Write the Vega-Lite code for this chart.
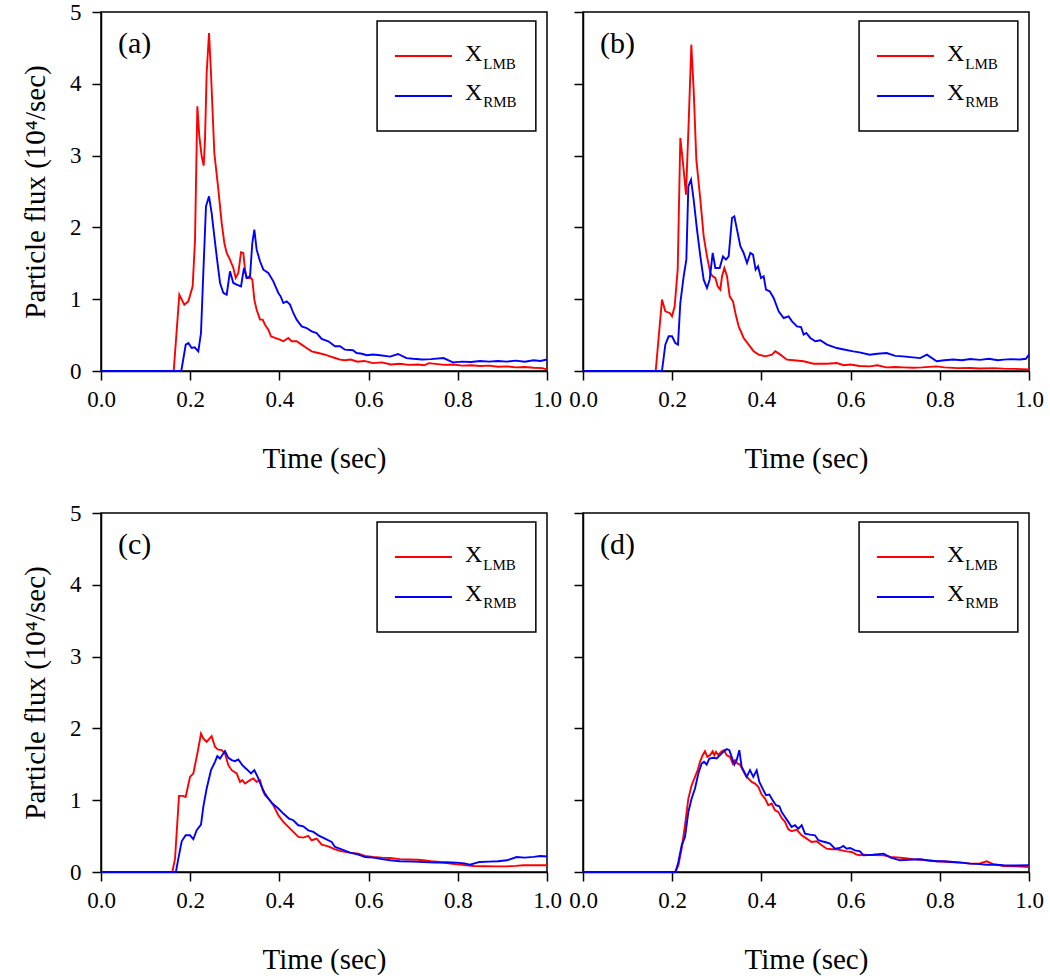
{
  "$schema": "https://vega.github.io/schema/vega-lite/v6.json",
  "padding": {"left": 20, "top": 0, "right": 5, "bottom": 5},
  "background": "white",
  "bounds": "flush",
  "columns": 2,
  "spacing": {"row": 142, "column": 36},
  "config": {
    "font": "Liberation Serif",
    "view": {"stroke": "black", "strokeWidth": 1.5},
    "axis": {"domainColor": "black", "domainWidth": 1.5, "tickColor": "black", "tickWidth": 1.5, "tickSize": 9,
      "labelFont": "Liberation Serif", "labelFontSize": 23, "labelColor": "black", "labelFlush": false, "labelOverlap": false, "labelBound": false,
      "titleFont": "Liberation Serif", "titleFontSize": 29, "titleFontWeight": "normal", "titleColor": "black", "grid": false},
    "axisX": {"labelPadding": 8, "titlePadding": 33},
    "axisY": {"labelPadding": 11, "titlePadding": 19}
  },
  "datasets": {
    "a": [
      {"s":"LMB","t":0,"v":0},{"s":"LMB","t":0.163,"v":0},{"s":"LMB","t":0.1756,"v":1.063},{"s":"LMB","t":0.1868,"v":0.924},{"s":"LMB","t":0.1958,"v":0.97},{"s":"LMB","t":0.2055,"v":1.179},{"s":"LMB","t":0.2108,"v":1.829},{"s":"LMB","t":0.216,"v":3.686},{"s":"LMB","t":0.2205,"v":3.268},{"s":"LMB","t":0.2257,"v":2.99},{"s":"LMB","t":0.2302,"v":2.86},{"s":"LMB","t":0.2332,"v":3.222},{"s":"LMB","t":0.2369,"v":4.151},{"s":"LMB","t":0.2422,"v":4.708},{"s":"LMB","t":0.2466,"v":4.151},{"s":"LMB","t":0.2541,"v":3.036},{"s":"LMB","t":0.2631,"v":2.526},{"s":"LMB","t":0.2706,"v":2.061},{"s":"LMB","t":0.2765,"v":1.783},{"s":"LMB","t":0.2818,"v":1.644},{"s":"LMB","t":0.2892,"v":1.551},{"s":"LMB","t":0.2967,"v":1.435},{"s":"LMB","t":0.302,"v":1.296},{"s":"LMB","t":0.3079,"v":1.365},{"s":"LMB","t":0.3139,"v":1.653},{"s":"LMB","t":0.3191,"v":1.644},{"s":"LMB","t":0.3229,"v":1.411},{"s":"LMB","t":0.3266,"v":1.296},{"s":"LMB","t":0.3363,"v":1.296},{"s":"LMB","t":0.3393,"v":1.272},{"s":"LMB","t":0.3438,"v":0.994},{"s":"LMB","t":0.349,"v":0.854},{"s":"LMB","t":0.3565,"v":0.715},{"s":"LMB","t":0.3625,"v":0.715},{"s":"LMB","t":0.3677,"v":0.645},{"s":"LMB","t":0.3752,"v":0.576},{"s":"LMB","t":0.3812,"v":0.483},{"s":"LMB","t":0.3901,"v":0.46},{"s":"LMB","t":0.4013,"v":0.437},{"s":"LMB","t":0.4088,"v":0.414},{"s":"LMB","t":0.42,"v":0.46},{"s":"LMB","t":0.4275,"v":0.414},{"s":"LMB","t":0.4387,"v":0.414},{"s":"LMB","t":0.4499,"v":0.367},{"s":"LMB","t":0.4611,"v":0.321},{"s":"LMB","t":0.4723,"v":0.274},{"s":"LMB","t":0.4873,"v":0.251},{"s":"LMB","t":0.5022,"v":0.228},{"s":"LMB","t":0.5135,"v":0.204},{"s":"LMB","t":0.5247,"v":0.181},{"s":"LMB","t":0.5359,"v":0.158},{"s":"LMB","t":0.5471,"v":0.149},{"s":"LMB","t":0.56,"v":0.16},{"s":"LMB","t":0.575,"v":0.13},{"s":"LMB","t":0.59,"v":0.14},{"s":"LMB","t":0.61,"v":0.11},{"s":"LMB","t":0.63,"v":0.12},{"s":"LMB","t":0.65,"v":0.09},{"s":"LMB","t":0.67,"v":0.1},{"s":"LMB","t":0.69,"v":0.085},{"s":"LMB","t":0.71,"v":0.09},{"s":"LMB","t":0.725,"v":0.08},{"s":"LMB","t":0.735,"v":0.11},{"s":"LMB","t":0.75,"v":0.1},{"s":"LMB","t":0.77,"v":0.085},{"s":"LMB","t":0.79,"v":0.09},{"s":"LMB","t":0.81,"v":0.075},{"s":"LMB","t":0.83,"v":0.08},{"s":"LMB","t":0.85,"v":0.07},{"s":"LMB","t":0.87,"v":0.075},{"s":"LMB","t":0.89,"v":0.06},{"s":"LMB","t":0.91,"v":0.065},{"s":"LMB","t":0.93,"v":0.05},{"s":"LMB","t":0.95,"v":0.055},{"s":"LMB","t":0.97,"v":0.045},{"s":"LMB","t":0.99,"v":0.04},{"s":"LMB","t":1.0,"v":0.02},
      {"s":"RMB","t":0,"v":0},{"s":"RMB","t":0.18,"v":0},{"s":"RMB","t":0.19,"v":0.367},{"s":"RMB","t":0.196,"v":0.39},{"s":"RMB","t":0.2033,"v":0.321},{"s":"RMB","t":0.21,"v":0.33},{"s":"RMB","t":0.2182,"v":0.274},{"s":"RMB","t":0.2242,"v":0.529},{"s":"RMB","t":0.2294,"v":1.365},{"s":"RMB","t":0.2354,"v":2.294},{"s":"RMB","t":0.2422,"v":2.433},{"s":"RMB","t":0.2481,"v":2.2},{"s":"RMB","t":0.2541,"v":1.876},{"s":"RMB","t":0.2594,"v":1.597},{"s":"RMB","t":0.2669,"v":1.226},{"s":"RMB","t":0.2743,"v":1.087},{"s":"RMB","t":0.2818,"v":1.063},{"s":"RMB","t":0.2892,"v":1.388},{"s":"RMB","t":0.2967,"v":1.226},{"s":"RMB","t":0.3042,"v":1.203},{"s":"RMB","t":0.3139,"v":1.179},{"s":"RMB","t":0.3206,"v":1.435},{"s":"RMB","t":0.3266,"v":1.296},{"s":"RMB","t":0.3341,"v":1.319},{"s":"RMB","t":0.3393,"v":1.783},{"s":"RMB","t":0.3438,"v":1.969},{"s":"RMB","t":0.349,"v":1.69},{"s":"RMB","t":0.3565,"v":1.528},{"s":"RMB","t":0.364,"v":1.411},{"s":"RMB","t":0.3752,"v":1.365},{"s":"RMB","t":0.3864,"v":1.249},{"s":"RMB","t":0.3976,"v":1.087},{"s":"RMB","t":0.4028,"v":1.04},{"s":"RMB","t":0.4088,"v":0.947},{"s":"RMB","t":0.4163,"v":0.97},{"s":"RMB","t":0.4238,"v":0.924},{"s":"RMB","t":0.4312,"v":0.808},{"s":"RMB","t":0.4387,"v":0.715},{"s":"RMB","t":0.4499,"v":0.622},{"s":"RMB","t":0.4611,"v":0.599},{"s":"RMB","t":0.4723,"v":0.553},{"s":"RMB","t":0.4836,"v":0.529},{"s":"RMB","t":0.4948,"v":0.446},{"s":"RMB","t":0.5097,"v":0.414},{"s":"RMB","t":0.5247,"v":0.344},{"s":"RMB","t":0.5359,"v":0.344},{"s":"RMB","t":0.5471,"v":0.297},{"s":"RMB","t":0.565,"v":0.29},{"s":"RMB","t":0.573,"v":0.25},{"s":"RMB","t":0.585,"v":0.24},{"s":"RMB","t":0.596,"v":0.22},{"s":"RMB","t":0.61,"v":0.23},{"s":"RMB","t":0.626,"v":0.22},{"s":"RMB","t":0.648,"v":0.2},{"s":"RMB","t":0.666,"v":0.237},{"s":"RMB","t":0.685,"v":0.18},{"s":"RMB","t":0.7,"v":0.17},{"s":"RMB","t":0.72,"v":0.16},{"s":"RMB","t":0.74,"v":0.165},{"s":"RMB","t":0.768,"v":0.18},{"s":"RMB","t":0.789,"v":0.12},{"s":"RMB","t":0.81,"v":0.13},{"s":"RMB","t":0.83,"v":0.125},{"s":"RMB","t":0.85,"v":0.14},{"s":"RMB","t":0.87,"v":0.13},{"s":"RMB","t":0.89,"v":0.14},{"s":"RMB","t":0.91,"v":0.13},{"s":"RMB","t":0.93,"v":0.145},{"s":"RMB","t":0.95,"v":0.13},{"s":"RMB","t":0.97,"v":0.15},{"s":"RMB","t":0.985,"v":0.14},{"s":"RMB","t":1.0,"v":0.16}
    ],
    "b": [
      {"s":"LMB","t":0,"v":0},{"s":"LMB","t":0.163,"v":0},{"s":"LMB","t":0.1771,"v":0.994},{"s":"LMB","t":0.1846,"v":0.831},{"s":"LMB","t":0.1943,"v":0.808},{"s":"LMB","t":0.1996,"v":0.761},{"s":"LMB","t":0.2055,"v":0.901},{"s":"LMB","t":0.2123,"v":1.411},{"s":"LMB","t":0.2182,"v":3.245},{"s":"LMB","t":0.2242,"v":2.897},{"s":"LMB","t":0.2309,"v":2.456},{"s":"LMB","t":0.2369,"v":3.454},{"s":"LMB","t":0.2429,"v":4.545},{"s":"LMB","t":0.2481,"v":3.918},{"s":"LMB","t":0.2541,"v":2.944},{"s":"LMB","t":0.2631,"v":2.386},{"s":"LMB","t":0.2706,"v":1.876},{"s":"LMB","t":0.278,"v":1.597},{"s":"LMB","t":0.2855,"v":1.365},{"s":"LMB","t":0.2908,"v":1.319},{"s":"LMB","t":0.2967,"v":1.296},{"s":"LMB","t":0.302,"v":1.179},{"s":"LMB","t":0.3079,"v":1.133},{"s":"LMB","t":0.3117,"v":1.319},{"s":"LMB","t":0.3169,"v":1.435},{"s":"LMB","t":0.3229,"v":1.319},{"s":"LMB","t":0.3289,"v":1.04},{"s":"LMB","t":0.3363,"v":0.97},{"s":"LMB","t":0.3416,"v":0.808},{"s":"LMB","t":0.349,"v":0.622},{"s":"LMB","t":0.3602,"v":0.46},{"s":"LMB","t":0.3714,"v":0.367},{"s":"LMB","t":0.3826,"v":0.274},{"s":"LMB","t":0.3938,"v":0.228},{"s":"LMB","t":0.4088,"v":0.204},{"s":"LMB","t":0.4237,"v":0.228},{"s":"LMB","t":0.4312,"v":0.274},{"s":"LMB","t":0.4424,"v":0.228},{"s":"LMB","t":0.4573,"v":0.158},{"s":"LMB","t":0.4723,"v":0.149},{"s":"LMB","t":0.4948,"v":0.135},{"s":"LMB","t":0.5172,"v":0.102},{"s":"LMB","t":0.5471,"v":0.102},{"s":"LMB","t":0.569,"v":0.111},{"s":"LMB","t":0.585,"v":0.08},{"s":"LMB","t":0.6,"v":0.09},{"s":"LMB","t":0.62,"v":0.07},{"s":"LMB","t":0.643,"v":0.065},{"s":"LMB","t":0.66,"v":0.08},{"s":"LMB","t":0.68,"v":0.05},{"s":"LMB","t":0.7,"v":0.055},{"s":"LMB","t":0.718,"v":0.051},{"s":"LMB","t":0.74,"v":0.045},{"s":"LMB","t":0.76,"v":0.05},{"s":"LMB","t":0.793,"v":0.065},{"s":"LMB","t":0.81,"v":0.05},{"s":"LMB","t":0.84,"v":0.04},{"s":"LMB","t":0.868,"v":0.042},{"s":"LMB","t":0.89,"v":0.035},{"s":"LMB","t":0.92,"v":0.04},{"s":"LMB","t":0.943,"v":0.033},{"s":"LMB","t":0.97,"v":0.03},{"s":"LMB","t":1.0,"v":0.02},
      {"s":"RMB","t":0,"v":0},{"s":"RMB","t":0.177,"v":0},{"s":"RMB","t":0.1846,"v":0.367},{"s":"RMB","t":0.1921,"v":0.483},{"s":"RMB","t":0.1996,"v":0.483},{"s":"RMB","t":0.207,"v":0.39},{"s":"RMB","t":0.213,"v":0.367},{"s":"RMB","t":0.2182,"v":0.947},{"s":"RMB","t":0.2257,"v":1.319},{"s":"RMB","t":0.2317,"v":1.551},{"s":"RMB","t":0.2362,"v":2.572},{"s":"RMB","t":0.2422,"v":2.665},{"s":"RMB","t":0.2481,"v":2.386},{"s":"RMB","t":0.2556,"v":1.969},{"s":"RMB","t":0.2631,"v":1.597},{"s":"RMB","t":0.2706,"v":1.272},{"s":"RMB","t":0.278,"v":1.156},{"s":"RMB","t":0.284,"v":1.272},{"s":"RMB","t":0.2908,"v":1.644},{"s":"RMB","t":0.2967,"v":1.435},{"s":"RMB","t":0.3064,"v":1.435},{"s":"RMB","t":0.3139,"v":1.597},{"s":"RMB","t":0.3206,"v":1.551},{"s":"RMB","t":0.3266,"v":1.597},{"s":"RMB","t":0.3341,"v":2.131},{"s":"RMB","t":0.3393,"v":2.154},{"s":"RMB","t":0.3453,"v":1.969},{"s":"RMB","t":0.3528,"v":1.737},{"s":"RMB","t":0.3602,"v":1.644},{"s":"RMB","t":0.3677,"v":1.504},{"s":"RMB","t":0.3752,"v":1.644},{"s":"RMB","t":0.3812,"v":1.62},{"s":"RMB","t":0.3871,"v":1.411},{"s":"RMB","t":0.3924,"v":1.458},{"s":"RMB","t":0.3991,"v":1.296},{"s":"RMB","t":0.4051,"v":1.319},{"s":"RMB","t":0.4103,"v":1.133},{"s":"RMB","t":0.4185,"v":1.11},{"s":"RMB","t":0.4275,"v":1.017},{"s":"RMB","t":0.4387,"v":0.831},{"s":"RMB","t":0.4499,"v":0.738},{"s":"RMB","t":0.4611,"v":0.761},{"s":"RMB","t":0.4686,"v":0.692},{"s":"RMB","t":0.4798,"v":0.622},{"s":"RMB","t":0.4888,"v":0.613},{"s":"RMB","t":0.4948,"v":0.506},{"s":"RMB","t":0.5007,"v":0.529},{"s":"RMB","t":0.5097,"v":0.46},{"s":"RMB","t":0.5209,"v":0.414},{"s":"RMB","t":0.5321,"v":0.428},{"s":"RMB","t":0.5471,"v":0.367},{"s":"RMB","t":0.569,"v":0.32},{"s":"RMB","t":0.585,"v":0.3},{"s":"RMB","t":0.606,"v":0.274},{"s":"RMB","t":0.62,"v":0.26},{"s":"RMB","t":0.643,"v":0.227},{"s":"RMB","t":0.66,"v":0.24},{"s":"RMB","t":0.681,"v":0.25},{"s":"RMB","t":0.7,"v":0.21},{"s":"RMB","t":0.718,"v":0.204},{"s":"RMB","t":0.74,"v":0.19},{"s":"RMB","t":0.756,"v":0.18},{"s":"RMB","t":0.771,"v":0.227},{"s":"RMB","t":0.793,"v":0.135},{"s":"RMB","t":0.81,"v":0.15},{"s":"RMB","t":0.83,"v":0.16},{"s":"RMB","t":0.85,"v":0.15},{"s":"RMB","t":0.868,"v":0.167},{"s":"RMB","t":0.89,"v":0.155},{"s":"RMB","t":0.91,"v":0.17},{"s":"RMB","t":0.93,"v":0.15},{"s":"RMB","t":0.943,"v":0.158},{"s":"RMB","t":0.96,"v":0.165},{"s":"RMB","t":0.98,"v":0.16},{"s":"RMB","t":0.993,"v":0.17},{"s":"RMB","t":1.0,"v":0.227}
    ],
    "c": [
      {"s":"LMB","t":0,"v":0},{"s":"LMB","t":0.16,"v":0},{"s":"LMB","t":0.166,"v":0.186},{"s":"LMB","t":0.1749,"v":1.06},{"s":"LMB","t":0.1838,"v":1.06},{"s":"LMB","t":0.1898,"v":1.046},{"s":"LMB","t":0.1996,"v":1.325},{"s":"LMB","t":0.207,"v":1.372},{"s":"LMB","t":0.2145,"v":1.604},{"s":"LMB","t":0.2182,"v":1.72},{"s":"LMB","t":0.2242,"v":1.929},{"s":"LMB","t":0.2294,"v":1.86},{"s":"LMB","t":0.2369,"v":1.813},{"s":"LMB","t":0.2481,"v":1.892},{"s":"LMB","t":0.2556,"v":1.744},{"s":"LMB","t":0.2616,"v":1.707},{"s":"LMB","t":0.2706,"v":1.697},{"s":"LMB","t":0.278,"v":1.651},{"s":"LMB","t":0.2855,"v":1.488},{"s":"LMB","t":0.293,"v":1.418},{"s":"LMB","t":0.3042,"v":1.372},{"s":"LMB","t":0.3117,"v":1.255},{"s":"LMB","t":0.3169,"v":1.279},{"s":"LMB","t":0.3229,"v":1.232},{"s":"LMB","t":0.3341,"v":1.279},{"s":"LMB","t":0.3416,"v":1.302},{"s":"LMB","t":0.349,"v":1.255},{"s":"LMB","t":0.3565,"v":1.279},{"s":"LMB","t":0.3625,"v":1.139},{"s":"LMB","t":0.3677,"v":1.069},{"s":"LMB","t":0.3789,"v":0.999},{"s":"LMB","t":0.3864,"v":0.93},{"s":"LMB","t":0.3976,"v":0.791},{"s":"LMB","t":0.4088,"v":0.698},{"s":"LMB","t":0.42,"v":0.628},{"s":"LMB","t":0.4312,"v":0.558},{"s":"LMB","t":0.4424,"v":0.488},{"s":"LMB","t":0.4536,"v":0.479},{"s":"LMB","t":0.4648,"v":0.502},{"s":"LMB","t":0.4723,"v":0.442},{"s":"LMB","t":0.4836,"v":0.465},{"s":"LMB","t":0.4948,"v":0.381},{"s":"LMB","t":0.5097,"v":0.358},{"s":"LMB","t":0.5247,"v":0.316},{"s":"LMB","t":0.5396,"v":0.288},{"s":"LMB","t":0.5583,"v":0.27},{"s":"LMB","t":0.577,"v":0.256},{"s":"LMB","t":0.5919,"v":0.223},{"s":"LMB","t":0.61,"v":0.21},{"s":"LMB","t":0.63,"v":0.2},{"s":"LMB","t":0.648,"v":0.195},{"s":"LMB","t":0.67,"v":0.18},{"s":"LMB","t":0.69,"v":0.175},{"s":"LMB","t":0.71,"v":0.17},{"s":"LMB","t":0.723,"v":0.163},{"s":"LMB","t":0.74,"v":0.15},{"s":"LMB","t":0.76,"v":0.14},{"s":"LMB","t":0.783,"v":0.116},{"s":"LMB","t":0.81,"v":0.1},{"s":"LMB","t":0.835,"v":0.084},{"s":"LMB","t":0.86,"v":0.08},{"s":"LMB","t":0.885,"v":0.078},{"s":"LMB","t":0.91,"v":0.079},{"s":"LMB","t":0.93,"v":0.085},{"s":"LMB","t":0.947,"v":0.093},{"s":"LMB","t":0.97,"v":0.095},{"s":"LMB","t":1.0,"v":0.093},
      {"s":"RMB","t":0,"v":0},{"s":"RMB","t":0.168,"v":0},{"s":"RMB","t":0.1734,"v":0.186},{"s":"RMB","t":0.1809,"v":0.428},{"s":"RMB","t":0.1898,"v":0.511},{"s":"RMB","t":0.1996,"v":0.511},{"s":"RMB","t":0.207,"v":0.456},{"s":"RMB","t":0.2145,"v":0.581},{"s":"RMB","t":0.2242,"v":0.66},{"s":"RMB","t":0.2294,"v":0.907},{"s":"RMB","t":0.2369,"v":1.162},{"s":"RMB","t":0.2466,"v":1.418},{"s":"RMB","t":0.2556,"v":1.534},{"s":"RMB","t":0.2608,"v":1.613},{"s":"RMB","t":0.2668,"v":1.581},{"s":"RMB","t":0.2728,"v":1.637},{"s":"RMB","t":0.278,"v":1.683},{"s":"RMB","t":0.2855,"v":1.59},{"s":"RMB","t":0.293,"v":1.558},{"s":"RMB","t":0.3004,"v":1.544},{"s":"RMB","t":0.3079,"v":1.567},{"s":"RMB","t":0.3169,"v":1.488},{"s":"RMB","t":0.3266,"v":1.432},{"s":"RMB","t":0.3363,"v":1.372},{"s":"RMB","t":0.3438,"v":1.418},{"s":"RMB","t":0.3513,"v":1.325},{"s":"RMB","t":0.3587,"v":1.209},{"s":"RMB","t":0.3662,"v":1.107},{"s":"RMB","t":0.3752,"v":1.023},{"s":"RMB","t":0.3842,"v":0.953},{"s":"RMB","t":0.3976,"v":0.884},{"s":"RMB","t":0.4088,"v":0.814},{"s":"RMB","t":0.4215,"v":0.744},{"s":"RMB","t":0.4312,"v":0.721},{"s":"RMB","t":0.4424,"v":0.651},{"s":"RMB","t":0.4536,"v":0.637},{"s":"RMB","t":0.4648,"v":0.581},{"s":"RMB","t":0.4761,"v":0.558},{"s":"RMB","t":0.4873,"v":0.511},{"s":"RMB","t":0.5022,"v":0.465},{"s":"RMB","t":0.5172,"v":0.418},{"s":"RMB","t":0.5247,"v":0.349},{"s":"RMB","t":0.5396,"v":0.316},{"s":"RMB","t":0.5583,"v":0.27},{"s":"RMB","t":0.577,"v":0.242},{"s":"RMB","t":0.5919,"v":0.209},{"s":"RMB","t":0.61,"v":0.2},{"s":"RMB","t":0.63,"v":0.18},{"s":"RMB","t":0.648,"v":0.163},{"s":"RMB","t":0.67,"v":0.15},{"s":"RMB","t":0.7,"v":0.145},{"s":"RMB","t":0.723,"v":0.14},{"s":"RMB","t":0.75,"v":0.13},{"s":"RMB","t":0.775,"v":0.135},{"s":"RMB","t":0.797,"v":0.13},{"s":"RMB","t":0.815,"v":0.12},{"s":"RMB","t":0.827,"v":0.102},{"s":"RMB","t":0.849,"v":0.14},{"s":"RMB","t":0.87,"v":0.145},{"s":"RMB","t":0.89,"v":0.15},{"s":"RMB","t":0.91,"v":0.163},{"s":"RMB","t":0.932,"v":0.209},{"s":"RMB","t":0.95,"v":0.2},{"s":"RMB","t":0.97,"v":0.21},{"s":"RMB","t":0.985,"v":0.223},{"s":"RMB","t":1.0,"v":0.215}
    ],
    "d": [
      {"s":"LMB","t":0,"v":0},{"s":"LMB","t":0.206,"v":0},{"s":"LMB","t":0.2138,"v":0.093},{"s":"LMB","t":0.2212,"v":0.325},{"s":"LMB","t":0.2287,"v":0.651},{"s":"LMB","t":0.2362,"v":1.023},{"s":"LMB","t":0.2436,"v":1.209},{"s":"LMB","t":0.2511,"v":1.325},{"s":"LMB","t":0.2571,"v":1.418},{"s":"LMB","t":0.2623,"v":1.534},{"s":"LMB","t":0.2683,"v":1.627},{"s":"LMB","t":0.2735,"v":1.683},{"s":"LMB","t":0.2787,"v":1.604},{"s":"LMB","t":0.2847,"v":1.627},{"s":"LMB","t":0.2907,"v":1.683},{"s":"LMB","t":0.2945,"v":1.627},{"s":"LMB","t":0.2982,"v":1.674},{"s":"LMB","t":0.3034,"v":1.627},{"s":"LMB","t":0.3109,"v":1.683},{"s":"LMB","t":0.3161,"v":1.697},{"s":"LMB","t":0.3221,"v":1.627},{"s":"LMB","t":0.3296,"v":1.604},{"s":"LMB","t":0.3356,"v":1.511},{"s":"LMB","t":0.3408,"v":1.558},{"s":"LMB","t":0.346,"v":1.511},{"s":"LMB","t":0.352,"v":1.497},{"s":"LMB","t":0.358,"v":1.418},{"s":"LMB","t":0.3655,"v":1.335},{"s":"LMB","t":0.3707,"v":1.302},{"s":"LMB","t":0.3782,"v":1.255},{"s":"LMB","t":0.3857,"v":1.232},{"s":"LMB","t":0.3931,"v":1.186},{"s":"LMB","t":0.4006,"v":1.079},{"s":"LMB","t":0.4081,"v":1.023},{"s":"LMB","t":0.4155,"v":0.93},{"s":"LMB","t":0.423,"v":0.953},{"s":"LMB","t":0.4305,"v":0.86},{"s":"LMB","t":0.438,"v":0.837},{"s":"LMB","t":0.4454,"v":0.753},{"s":"LMB","t":0.4529,"v":0.698},{"s":"LMB","t":0.4604,"v":0.595},{"s":"LMB","t":0.4678,"v":0.567},{"s":"LMB","t":0.4791,"v":0.591},{"s":"LMB","t":0.4903,"v":0.511},{"s":"LMB","t":0.5015,"v":0.465},{"s":"LMB","t":0.5127,"v":0.418},{"s":"LMB","t":0.5239,"v":0.428},{"s":"LMB","t":0.5351,"v":0.372},{"s":"LMB","t":0.5463,"v":0.325},{"s":"LMB","t":0.5576,"v":0.316},{"s":"LMB","t":0.5688,"v":0.316},{"s":"LMB","t":0.58,"v":0.302},{"s":"LMB","t":0.5912,"v":0.288},{"s":"LMB","t":0.6024,"v":0.279},{"s":"LMB","t":0.6136,"v":0.242},{"s":"LMB","t":0.6211,"v":0.233},{"s":"LMB","t":0.629,"v":0.242},{"s":"LMB","t":0.65,"v":0.235},{"s":"LMB","t":0.674,"v":0.232},{"s":"LMB","t":0.69,"v":0.21},{"s":"LMB","t":0.718,"v":0.195},{"s":"LMB","t":0.74,"v":0.18},{"s":"LMB","t":0.76,"v":0.17},{"s":"LMB","t":0.793,"v":0.149},{"s":"LMB","t":0.82,"v":0.14},{"s":"LMB","t":0.845,"v":0.13},{"s":"LMB","t":0.868,"v":0.116},{"s":"LMB","t":0.89,"v":0.12},{"s":"LMB","t":0.905,"v":0.149},{"s":"LMB","t":0.92,"v":0.11},{"s":"LMB","t":0.943,"v":0.084},{"s":"LMB","t":0.97,"v":0.08},{"s":"LMB","t":1.0,"v":0.07},
      {"s":"RMB","t":0,"v":0},{"s":"RMB","t":0.2077,"v":0},{"s":"RMB","t":0.2138,"v":0.139},{"s":"RMB","t":0.2212,"v":0.372},{"s":"RMB","t":0.2287,"v":0.488},{"s":"RMB","t":0.2362,"v":0.837},{"s":"RMB","t":0.2436,"v":1.023},{"s":"RMB","t":0.2511,"v":1.162},{"s":"RMB","t":0.2586,"v":1.372},{"s":"RMB","t":0.2661,"v":1.511},{"s":"RMB","t":0.2713,"v":1.534},{"s":"RMB","t":0.2773,"v":1.497},{"s":"RMB","t":0.2833,"v":1.581},{"s":"RMB","t":0.2922,"v":1.59},{"s":"RMB","t":0.2997,"v":1.581},{"s":"RMB","t":0.3072,"v":1.627},{"s":"RMB","t":0.3147,"v":1.674},{"s":"RMB","t":0.3221,"v":1.711},{"s":"RMB","t":0.3281,"v":1.697},{"s":"RMB","t":0.3333,"v":1.604},{"s":"RMB","t":0.3393,"v":1.497},{"s":"RMB","t":0.3445,"v":1.558},{"s":"RMB","t":0.3505,"v":1.697},{"s":"RMB","t":0.3557,"v":1.465},{"s":"RMB","t":0.3617,"v":1.395},{"s":"RMB","t":0.3669,"v":1.325},{"s":"RMB","t":0.3744,"v":1.418},{"s":"RMB","t":0.3819,"v":1.325},{"s":"RMB","t":0.3894,"v":1.418},{"s":"RMB","t":0.3954,"v":1.255},{"s":"RMB","t":0.4028,"v":1.162},{"s":"RMB","t":0.4103,"v":1.069},{"s":"RMB","t":0.4178,"v":1.079},{"s":"RMB","t":0.4253,"v":1.0},{"s":"RMB","t":0.4327,"v":0.93},{"s":"RMB","t":0.4402,"v":0.916},{"s":"RMB","t":0.4454,"v":0.837},{"s":"RMB","t":0.4529,"v":0.767},{"s":"RMB","t":0.4604,"v":0.698},{"s":"RMB","t":0.4678,"v":0.628},{"s":"RMB","t":0.4753,"v":0.651},{"s":"RMB","t":0.4828,"v":0.604},{"s":"RMB","t":0.4903,"v":0.651},{"s":"RMB","t":0.4978,"v":0.535},{"s":"RMB","t":0.509,"v":0.521},{"s":"RMB","t":0.5202,"v":0.511},{"s":"RMB","t":0.5277,"v":0.442},{"s":"RMB","t":0.5351,"v":0.428},{"s":"RMB","t":0.5426,"v":0.418},{"s":"RMB","t":0.5538,"v":0.395},{"s":"RMB","t":0.565,"v":0.325},{"s":"RMB","t":0.5762,"v":0.335},{"s":"RMB","t":0.5837,"v":0.363},{"s":"RMB","t":0.5912,"v":0.325},{"s":"RMB","t":0.5987,"v":0.335},{"s":"RMB","t":0.6099,"v":0.302},{"s":"RMB","t":0.6211,"v":0.288},{"s":"RMB","t":0.629,"v":0.232},{"s":"RMB","t":0.65,"v":0.24},{"s":"RMB","t":0.674,"v":0.256},{"s":"RMB","t":0.69,"v":0.2},{"s":"RMB","t":0.711,"v":0.163},{"s":"RMB","t":0.73,"v":0.17},{"s":"RMB","t":0.756,"v":0.177},{"s":"RMB","t":0.775,"v":0.16},{"s":"RMB","t":0.793,"v":0.149},{"s":"RMB","t":0.81,"v":0.15},{"s":"RMB","t":0.83,"v":0.14},{"s":"RMB","t":0.85,"v":0.13},{"s":"RMB","t":0.868,"v":0.116},{"s":"RMB","t":0.89,"v":0.11},{"s":"RMB","t":0.905,"v":0.102},{"s":"RMB","t":0.925,"v":0.1},{"s":"RMB","t":0.943,"v":0.093},{"s":"RMB","t":0.97,"v":0.09},{"s":"RMB","t":1.0,"v":0.093}
    ]
  },
  "concat": [
    {
      "width": 446, "height": 359,
      "data": {"values": [{}]},
      "layer": [
        {"data": {"name": "a"}, "mark": {"type": "line", "strokeWidth": 1.9},
         "encoding": {
           "x": {"field": "t", "type": "quantitative", "scale": {"domain": [0, 1], "nice": false}, "axis": {"title": "Time (sec)", "values": [0, 0.2, 0.4, 0.6, 0.8, 1], "format": ".1f"}},
           "y": {"field": "v", "type": "quantitative", "scale": {"domain": [0, 5], "nice": false}, "axis": {"title": "Particle flux (10⁴/sec)", "values": [0, 1, 2, 3, 4, 5], "format": "d"}},
           "color": {"field": "s", "type": "nominal", "scale": {"domain": ["LMB", "RMB"], "range": ["#ff0000", "#0000ff"]}, "legend": null}}},
        {"mark": {"type": "rect", "fill": "white", "stroke": "black", "strokeWidth": 1.5}, "encoding": {"x": {"datum": 0.619}, "x2": {"datum": 0.975}, "y": {"datum": 4.875}, "y2": {"datum": 3.343}}},
        {"mark": {"type": "rule", "color": "#ff0000", "strokeWidth": 1.8}, "encoding": {"x": {"datum": 0.659}, "x2": {"datum": 0.787}, "y": {"datum": 4.387}}},
        {"mark": {"type": "rule", "color": "#0000ff", "strokeWidth": 1.8}, "encoding": {"x": {"datum": 0.659}, "x2": {"datum": 0.787}, "y": {"datum": 3.83}}},
        {"mark": {"type": "text", "text": "X", "fontSize": 24, "align": "left", "baseline": "alphabetic", "font": "Liberation Serif"}, "encoding": {"x": {"datum": 0.816}, "y": {"datum": 4.318}}},
        {"mark": {"type": "text", "text": "X", "fontSize": 24, "align": "left", "baseline": "alphabetic", "font": "Liberation Serif"}, "encoding": {"x": {"datum": 0.816}, "y": {"datum": 3.779}}},
        {"mark": {"type": "text", "text": "LMB", "fontSize": 15, "align": "left", "baseline": "alphabetic", "font": "Liberation Serif"}, "encoding": {"x": {"datum": 0.857}, "y": {"datum": 4.206}}},
        {"mark": {"type": "text", "text": "RMB", "fontSize": 15, "align": "left", "baseline": "alphabetic", "font": "Liberation Serif"}, "encoding": {"x": {"datum": 0.857}, "y": {"datum": 3.673}}},
        {"mark": {"type": "text", "text": "(a)", "fontSize": 30, "align": "left", "baseline": "alphabetic", "font": "Liberation Serif"}, "encoding": {"x": {"datum": 0.038}, "y": {"datum": 4.43}}}
      ]
    },
    {
      "width": 446, "height": 359,
      "data": {"values": [{}]},
      "layer": [
        {"data": {"name": "b"}, "mark": {"type": "line", "strokeWidth": 1.9},
         "encoding": {
           "x": {"field": "t", "type": "quantitative", "scale": {"domain": [0, 1], "nice": false}, "axis": {"title": "Time (sec)", "values": [0, 0.2, 0.4, 0.6, 0.8, 1], "format": ".1f"}},
           "y": {"field": "v", "type": "quantitative", "scale": {"domain": [0, 5], "nice": false}, "axis": {"title": null, "labels": false, "values": [0, 1, 2, 3, 4, 5]}},
           "color": {"field": "s", "type": "nominal", "scale": {"domain": ["LMB", "RMB"], "range": ["#ff0000", "#0000ff"]}, "legend": null}}},
        {"mark": {"type": "rect", "fill": "white", "stroke": "black", "strokeWidth": 1.5}, "encoding": {"x": {"datum": 0.619}, "x2": {"datum": 0.975}, "y": {"datum": 4.875}, "y2": {"datum": 3.343}}},
        {"mark": {"type": "rule", "color": "#ff0000", "strokeWidth": 1.8}, "encoding": {"x": {"datum": 0.659}, "x2": {"datum": 0.787}, "y": {"datum": 4.387}}},
        {"mark": {"type": "rule", "color": "#0000ff", "strokeWidth": 1.8}, "encoding": {"x": {"datum": 0.659}, "x2": {"datum": 0.787}, "y": {"datum": 3.83}}},
        {"mark": {"type": "text", "text": "X", "fontSize": 24, "align": "left", "baseline": "alphabetic", "font": "Liberation Serif"}, "encoding": {"x": {"datum": 0.816}, "y": {"datum": 4.318}}},
        {"mark": {"type": "text", "text": "X", "fontSize": 24, "align": "left", "baseline": "alphabetic", "font": "Liberation Serif"}, "encoding": {"x": {"datum": 0.816}, "y": {"datum": 3.779}}},
        {"mark": {"type": "text", "text": "LMB", "fontSize": 15, "align": "left", "baseline": "alphabetic", "font": "Liberation Serif"}, "encoding": {"x": {"datum": 0.857}, "y": {"datum": 4.206}}},
        {"mark": {"type": "text", "text": "RMB", "fontSize": 15, "align": "left", "baseline": "alphabetic", "font": "Liberation Serif"}, "encoding": {"x": {"datum": 0.857}, "y": {"datum": 3.673}}},
        {"mark": {"type": "text", "text": "(b)", "fontSize": 30, "align": "left", "baseline": "alphabetic", "font": "Liberation Serif"}, "encoding": {"x": {"datum": 0.038}, "y": {"datum": 4.43}}}
      ]
    },
    {
      "width": 446, "height": 359,
      "data": {"values": [{}]},
      "layer": [
        {"data": {"name": "c"}, "mark": {"type": "line", "strokeWidth": 1.9},
         "encoding": {
           "x": {"field": "t", "type": "quantitative", "scale": {"domain": [0, 1], "nice": false}, "axis": {"title": "Time (sec)", "values": [0, 0.2, 0.4, 0.6, 0.8, 1], "format": ".1f"}},
           "y": {"field": "v", "type": "quantitative", "scale": {"domain": [0, 5], "nice": false}, "axis": {"title": "Particle flux (10⁴/sec)", "values": [0, 1, 2, 3, 4, 5], "format": "d"}},
           "color": {"field": "s", "type": "nominal", "scale": {"domain": ["LMB", "RMB"], "range": ["#ff0000", "#0000ff"]}, "legend": null}}},
        {"mark": {"type": "rect", "fill": "white", "stroke": "black", "strokeWidth": 1.5}, "encoding": {"x": {"datum": 0.619}, "x2": {"datum": 0.975}, "y": {"datum": 4.875}, "y2": {"datum": 3.343}}},
        {"mark": {"type": "rule", "color": "#ff0000", "strokeWidth": 1.8}, "encoding": {"x": {"datum": 0.659}, "x2": {"datum": 0.787}, "y": {"datum": 4.387}}},
        {"mark": {"type": "rule", "color": "#0000ff", "strokeWidth": 1.8}, "encoding": {"x": {"datum": 0.659}, "x2": {"datum": 0.787}, "y": {"datum": 3.83}}},
        {"mark": {"type": "text", "text": "X", "fontSize": 24, "align": "left", "baseline": "alphabetic", "font": "Liberation Serif"}, "encoding": {"x": {"datum": 0.816}, "y": {"datum": 4.318}}},
        {"mark": {"type": "text", "text": "X", "fontSize": 24, "align": "left", "baseline": "alphabetic", "font": "Liberation Serif"}, "encoding": {"x": {"datum": 0.816}, "y": {"datum": 3.779}}},
        {"mark": {"type": "text", "text": "LMB", "fontSize": 15, "align": "left", "baseline": "alphabetic", "font": "Liberation Serif"}, "encoding": {"x": {"datum": 0.857}, "y": {"datum": 4.206}}},
        {"mark": {"type": "text", "text": "RMB", "fontSize": 15, "align": "left", "baseline": "alphabetic", "font": "Liberation Serif"}, "encoding": {"x": {"datum": 0.857}, "y": {"datum": 3.673}}},
        {"mark": {"type": "text", "text": "(c)", "fontSize": 30, "align": "left", "baseline": "alphabetic", "font": "Liberation Serif"}, "encoding": {"x": {"datum": 0.038}, "y": {"datum": 4.43}}}
      ]
    },
    {
      "width": 446, "height": 359,
      "data": {"values": [{}]},
      "layer": [
        {"data": {"name": "d"}, "mark": {"type": "line", "strokeWidth": 1.9},
         "encoding": {
           "x": {"field": "t", "type": "quantitative", "scale": {"domain": [0, 1], "nice": false}, "axis": {"title": "Time (sec)", "values": [0, 0.2, 0.4, 0.6, 0.8, 1], "format": ".1f"}},
           "y": {"field": "v", "type": "quantitative", "scale": {"domain": [0, 5], "nice": false}, "axis": {"title": null, "labels": false, "values": [0, 1, 2, 3, 4, 5]}},
           "color": {"field": "s", "type": "nominal", "scale": {"domain": ["LMB", "RMB"], "range": ["#ff0000", "#0000ff"]}, "legend": null}}},
        {"mark": {"type": "rect", "fill": "white", "stroke": "black", "strokeWidth": 1.5}, "encoding": {"x": {"datum": 0.619}, "x2": {"datum": 0.975}, "y": {"datum": 4.875}, "y2": {"datum": 3.343}}},
        {"mark": {"type": "rule", "color": "#ff0000", "strokeWidth": 1.8}, "encoding": {"x": {"datum": 0.659}, "x2": {"datum": 0.787}, "y": {"datum": 4.387}}},
        {"mark": {"type": "rule", "color": "#0000ff", "strokeWidth": 1.8}, "encoding": {"x": {"datum": 0.659}, "x2": {"datum": 0.787}, "y": {"datum": 3.83}}},
        {"mark": {"type": "text", "text": "X", "fontSize": 24, "align": "left", "baseline": "alphabetic", "font": "Liberation Serif"}, "encoding": {"x": {"datum": 0.816}, "y": {"datum": 4.318}}},
        {"mark": {"type": "text", "text": "X", "fontSize": 24, "align": "left", "baseline": "alphabetic", "font": "Liberation Serif"}, "encoding": {"x": {"datum": 0.816}, "y": {"datum": 3.779}}},
        {"mark": {"type": "text", "text": "LMB", "fontSize": 15, "align": "left", "baseline": "alphabetic", "font": "Liberation Serif"}, "encoding": {"x": {"datum": 0.857}, "y": {"datum": 4.206}}},
        {"mark": {"type": "text", "text": "RMB", "fontSize": 15, "align": "left", "baseline": "alphabetic", "font": "Liberation Serif"}, "encoding": {"x": {"datum": 0.857}, "y": {"datum": 3.673}}},
        {"mark": {"type": "text", "text": "(d)", "fontSize": 30, "align": "left", "baseline": "alphabetic", "font": "Liberation Serif"}, "encoding": {"x": {"datum": 0.038}, "y": {"datum": 4.43}}}
      ]
    }
  ]
}
